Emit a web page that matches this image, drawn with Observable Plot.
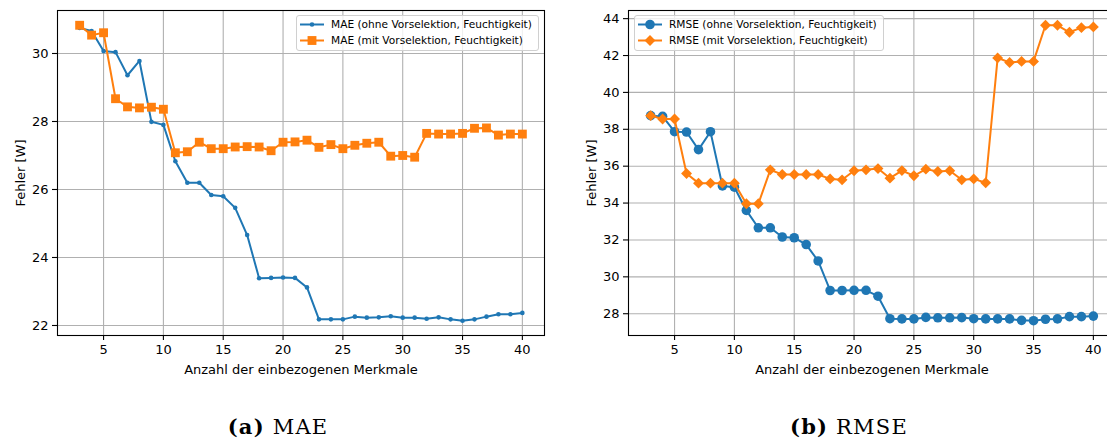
<!DOCTYPE html>
<html>
<head>
<meta charset="utf-8">
<script src="https://cdn.jsdelivr.net/npm/d3@7"></script>
<script src="https://cdn.jsdelivr.net/npm/@observablehq/plot@0.6"></script>
<style>
  html, body { margin: 0; padding: 0; background: #fff; }
  body { width: 1107px; height: 441px; overflow: hidden; position: relative; font-family: "DejaVu Sans", sans-serif; }
  .panel { position: absolute; top: 0; width: 555px; height: 380px; }
  .panel svg { max-width: none !important; }
  .legend { position: absolute; background: rgba(255,255,255,0.8); border: 1px solid #d0d0d0; border-radius: 3px; font-size: 10.6px; color: #000; }
  .legend .row { position: absolute; left: 0; white-space: nowrap; }
  .legend svg { position: absolute; left: 0; top: 0; }
  .caption { position: absolute; top: 414px; font-family: "DejaVu Serif", serif; font-size: 21px; letter-spacing: 1.2px; color: #000; transform: translateX(-50%); white-space: nowrap; }
  .caption b { font-weight: bold; }
</style>
</head>
<body>
<div id="left" class="panel" style="left:0px"></div>
<div id="right" class="panel" style="left:571px"></div>
<div class="caption" style="left:278px"><b>(a)</b> MAE</div>
<div class="caption" style="left:849px"><b>(b)</b> RMSE</div>
<script>
// ---- data ----
const features = [3,4,5,6,7,8,9,10,11,12,13,14,15,16,17,18,19,20,21,22,23,24,25,26,27,28,29,30,31,32,33,34,35,36,37,38,39,40];
const maeOhne = [30.75,30.66,30.07,30.04,29.36,29.78,27.99,27.90,26.83,26.20,26.20,25.84,25.80,25.46,24.66,23.39,23.40,23.41,23.40,23.12,22.18,22.18,22.18,22.26,22.23,22.24,22.27,22.23,22.23,22.20,22.24,22.18,22.14,22.18,22.26,22.33,22.33,22.37];
const maeMit = [30.83,30.54,30.61,28.67,28.43,28.40,28.42,28.36,27.08,27.11,27.39,27.20,27.20,27.25,27.26,27.25,27.14,27.39,27.40,27.45,27.24,27.32,27.20,27.30,27.36,27.39,26.98,27.00,26.95,27.65,27.63,27.63,27.65,27.80,27.81,27.60,27.63,27.63];
const rmseOhne = [38.74,38.70,37.87,37.85,36.90,37.87,34.93,34.86,33.60,32.66,32.66,32.16,32.12,31.75,30.86,29.26,29.26,29.27,29.27,28.95,27.73,27.72,27.72,27.80,27.78,27.78,27.79,27.73,27.72,27.72,27.72,27.64,27.62,27.70,27.72,27.84,27.84,27.87];
const rmseMit = [38.74,38.56,38.56,35.60,35.08,35.08,35.08,35.08,33.96,33.96,35.80,35.55,35.55,35.55,35.55,35.31,35.26,35.75,35.80,35.87,35.35,35.76,35.48,35.84,35.71,35.75,35.26,35.31,35.10,41.87,41.62,41.68,41.68,43.64,43.64,43.26,43.51,43.55];
const xTicks = [5,10,15,20,25,30,35,40];
const maeTicks = [22,24,26,28,30];
const rmseTicks = [28,30,32,34,36,38,40,42,44];
const xLabel = "Anzahl der einbezogenen Merkmale";
const yLabel = "Fehler [W]";
const legendMAE = ["MAE (ohne Vorselektion, Feuchtigkeit)", "MAE (mit Vorselektion, Feuchtigkeit)"];
const legendRMSE = ["RMSE (ohne Vorselektion, Feuchtigkeit)", "RMSE (mit Vorselektion, Feuchtigkeit)"];

const BLUE = "#1f77b4", ORANGE = "#ff7f0e";

function pad(arr) {
  const lo = d3.min(arr), hi = d3.max(arr), m = (hi - lo) * 0.05;
  return [lo - m, hi + m];
}

function makePlot(s1, s2, yTicks, sym1, r1, sym2, r2) {
  const d1 = features.map((x, i) => ({x, y: s1[i]}));
  const d2 = features.map((x, i) => ({x, y: s2[i]}));
  return Plot.plot({
    width: 555, height: 380,
    marginLeft: 57, marginRight: 11, marginTop: 10, marginBottom: 45,
    style: {fontFamily: "DejaVu Sans", fontSize: "13px", color: "#000", background: "none", overflow: "visible", maxWidth: "none"},
    x: {domain: pad(features)},
    y: {domain: pad(s1.concat(s2))},
    marks: [
      Plot.gridX(xTicks, {stroke: "#b0b0b0", strokeOpacity: 1, strokeWidth: 1.1}),
      Plot.gridY(yTicks, {stroke: "#b0b0b0", strokeOpacity: 1, strokeWidth: 1.1}),
      Plot.axisX({ticks: xTicks, tickSize: 5, tickPadding: 4, strokeWidth: 1.1, label: xLabel, labelAnchor: "center", labelArrow: "none", labelOffset: 38, fontSize: 13}),
      Plot.axisY({ticks: yTicks, tickSize: 5, tickPadding: 4, strokeWidth: 1.1, label: yLabel, labelAnchor: "center", labelArrow: "none", labelOffset: 42, fontSize: 13}),
      Plot.line(d1, {x: "x", y: "y", stroke: BLUE, strokeWidth: 2}),
      Plot.dot(d1, {x: "x", y: "y", fill: BLUE, r: r1, symbol: sym1}),
      Plot.line(d2, {x: "x", y: "y", stroke: ORANGE, strokeWidth: 2}),
      Plot.dot(d2, {x: "x", y: "y", fill: ORANGE, r: r2, symbol: sym2}),
      Plot.frame({stroke: "#000", strokeWidth: 1.1})
    ]
  });
}

document.getElementById("left").append(makePlot(maeOhne, maeMit, maeTicks, "circle", 2.3, "square", 5));
document.getElementById("right").append(makePlot(rmseOhne, rmseMit, rmseTicks, "circle", 4.8, "diamond2", 4.9));

function legend(left, labels, sym1, r1, sym2, r2, width) {
  const div = document.createElement("div");
  div.className = "legend";
  Object.assign(div.style, {left: left + "px", top: "15px", width: width + "px", height: "34px"});
  const svg = d3.create("svg").attr("width", 34).attr("height", 34);
  const map = {circle: d3.symbolCircle, square: d3.symbolSquare, diamond2: d3.symbolDiamond2};
  [[BLUE, sym1, r1, 8.5], [ORANGE, sym2, r2, 24.5]].forEach(([c, s, r, y]) => {
    svg.append("line").attr("x1", 3).attr("x2", 27).attr("y1", y).attr("y2", y).attr("stroke", c).attr("stroke-width", 2);
    svg.append("path").attr("transform", `translate(15,${y})`).attr("d", d3.symbol(map[s], Math.PI * r * r)()).attr("fill", c);
  });
  div.append(svg.node());
  labels.forEach((t, i) => {
    const row = document.createElement("div");
    row.className = "row";
    row.textContent = t;
    Object.assign(row.style, {left: "34px", top: (i === 0 ? 1.5 : 17.5) + "px"});
    div.append(row);
  });
  document.body.append(div);
}
legend(296, legendMAE, "circle", 2.3, "square", 5, 241);
legend(634, legendRMSE, "circle", 4.8, "diamond2", 4.9, 248);
</script>
</body>
</html>
